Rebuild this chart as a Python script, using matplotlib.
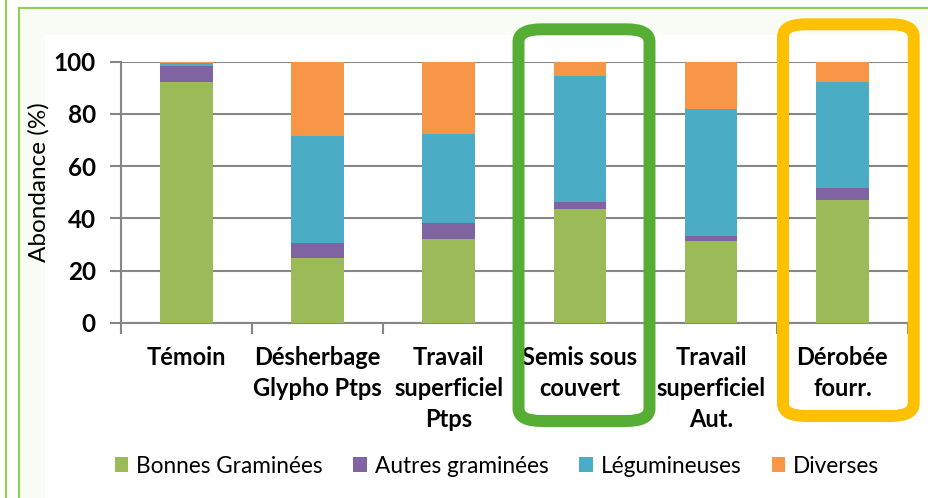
import matplotlib
matplotlib.use("Agg")
import matplotlib.pyplot as plt
from matplotlib.patches import Patch, FancyBboxPatch, Rectangle
from matplotlib.lines import Line2D
import numpy as np

categories = ["Témoin", "Désherbage\nGlypho Ptps", "Travail\nsuperficiel\nPtps",
              "Semis sous\ncouvert", "Travail\nsuperficiel\nAut.", "Dérobée\nfourr."]
series_names = ["Bonnes Graminées", "Autres graminées", "Légumineuses", "Diverses"]
bonnes_graminees = [92.2, 24.9, 32.2, 43.7, 31.4, 47.1]
autres_graminees = [6.2, 5.6, 6.1, 2.7, 1.9, 4.6]
legumineuses = [1.1, 40.9, 33.9, 48.1, 48.6, 40.6]
diverses = [0.5, 28.6, 27.8, 5.5, 18.1, 7.7]
colors = ["#9BBB59", "#8064A2", "#4BACC6", "#F79646"]
yticks = [0, 20, 40, 60, 80, 100]

FONT = ["Lato", "DejaVu Sans"]
plt.rcParams["font.family"] = FONT

W, H = 929, 498
fig = plt.figure(figsize=(W / 100, H / 100), dpi=100)
fig.patch.set_facecolor("white")

def px(x0, y0, x1, y1):
    """pixel box (from top-left) -> figure fraction rect"""
    return [x0 / W, 1 - y1 / H, (x1 - x0) / W, (y1 - y0) / H]

# faint tinted panel background
fig.add_artist(Rectangle((18.7 / W, 0), 1, 1 - 8.3 / H, transform=fig.transFigure,
                         facecolor="#F8FCF4", edgecolor="none", zorder=0))
fig.add_artist(Rectangle((45 / W, 0), 1, 1 - 35 / H, transform=fig.transFigure,
                         facecolor="white", edgecolor="none", zorder=0))
# panel frame lines
lc = "#92D050"
fig.add_artist(Line2D([6 / W, 6 / W], [0, 1], transform=fig.transFigure, color=lc, lw=1.5))
fig.add_artist(Line2D([18.7 / W, 18.7 / W], [0, 1 - 8.3 / H], transform=fig.transFigure, color=lc, lw=1.5))
fig.add_artist(Line2D([18.7 / W, 1], [1 - 8.3 / H, 1 - 8.3 / H], transform=fig.transFigure, color=lc, lw=1.5))

ax = fig.add_axes(px(120.7, 61.7, 908, 322.7))
ax.set_facecolor("none")
x = np.arange(len(categories))
bottom = np.zeros(len(categories))
for vals, c, name in zip([bonnes_graminees, autres_graminees, legumineuses, diverses], colors, series_names):
    ax.bar(x, vals, width=0.4, bottom=bottom, color=c, label=name, zorder=3, linewidth=0)
    bottom += np.array(vals)

ax.set_xlim(-0.5, len(categories) - 0.5)
ax.set_ylim(0, 100)
ax.set_yticks(yticks)
ax.set_yticklabels([str(v) for v in yticks], fontweight="bold", fontsize=17.5)
ax.yaxis.grid(True, color="#868686", linewidth=1.5, zorder=0)
ax.set_axisbelow(True)

ax.set_xticks(np.arange(len(categories) + 1) - 0.5)
ax.set_xticklabels([])
ax.set_xticks(x, minor=True)
ax.set_xticklabels(categories, minor=True, fontweight="bold", fontsize=17, linespacing=1.4)
ax.tick_params(axis="x", which="minor", length=0, pad=17)
ax.tick_params(axis="x", which="major", length=8, width=1.5, color="#868686", direction="out")
ax.tick_params(axis="y", length=8, width=1.5, color="#868686", direction="out", pad=10)

for s in ["top", "right"]:
    ax.spines[s].set_visible(False)
for s in ["left", "bottom"]:
    ax.spines[s].set_color("#868686")
    ax.spines[s].set_linewidth(1.5)

fig.text(39 / W, 1 - 182 / H, "Abondance (%)", rotation=90, ha="center", va="center", fontsize=17.5)

handles = [Patch(facecolor=c, edgecolor="none") for c in colors]
fig.legend(handles, series_names, loc="center", bbox_to_anchor=(497 / W, 1 - 466 / H), ncol=4,
           frameon=False, fontsize=16.3, handlelength=0.6, handleheight=0.6, handletextpad=0.35,
           columnspacing=1.35)

# highlight rounded boxes
for (x0, y0, x1, y1), ec in [((518.5, 29.3, 649.5, 421), "#55AE33"), ((783, 24.3, 913.7, 416), "#FFC000")]:
    fig.add_artist(FancyBboxPatch((x0 / W, 1 - y1 / H), (x1 - x0) / W, (y1 - y0) / H,
                                  boxstyle="round,pad=0,rounding_size=0.025",
                                  transform=fig.transFigure, facecolor="none", edgecolor=ec,
                                  linewidth=8.6, zorder=10))

fig.savefig("out.png", dpi=100)
